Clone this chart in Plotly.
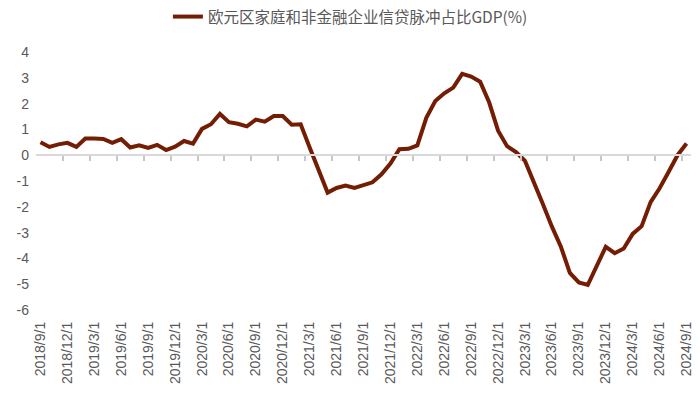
import plotly.graph_objects as go

# Monthly dates 2018/9 .. 2024/9
months = []
y, m = 2018, 9
while (y, m) <= (2024, 9):
    months.append(f"{y}/{m}/1")
    m += 1
    if m > 12:
        m = 1
        y += 1

values = [
    0.50, 0.32, 0.42, 0.48, 0.32, 0.65, 0.65, 0.63, 0.48, 0.62,
    0.30, 0.38, 0.28, 0.40, 0.20, 0.33, 0.55, 0.45, 1.02, 1.20,
    1.60, 1.28, 1.22, 1.12, 1.38, 1.30, 1.52, 1.52, 1.18, 1.20,
    0.30, -0.60, -1.45, -1.27, -1.18, -1.27, -1.17, -1.05, -0.74, -0.32,
    0.23, 0.25, 0.38, 1.45, 2.10, 2.40, 2.62, 3.15, 3.05, 2.85,
    2.05, 0.95, 0.35, 0.12, -0.22, -1.03, -1.90, -2.77, -3.55, -4.56,
    -4.93, -5.03, -4.30, -3.55, -3.80, -3.62, -3.05, -2.75, -1.82, -1.28,
    -0.65, 0.00, 0.45,
]

series_name = "欧元区家庭和非金融企业信贷脉冲占比GDP(%)"
tick_idx = list(range(0, len(months), 3))
tick_text = [months[i] for i in tick_idx]
y_ticks = [4, 3, 2, 1, 0, -1, -2, -3, -4, -5, -6]

x_idx = list(range(len(months)))
font_fam = "Liberation Sans, Arial, sans-serif"

fig = go.Figure()
# invisible trace that carries the zero-crossing category axis (tick marks between categories)
fig.add_trace(go.Scatter(
    x=x_idx, y=values, mode="lines", xaxis="x2", yaxis="y", showlegend=False,
    line=dict(width=1, color="rgba(0,0,0,0)"), hoverinfo="skip",
))
fig.add_trace(go.Scatter(
    x=x_idx, y=values, mode="lines", name=series_name,
    line=dict(color="#731D05", width=4),
))

fig.update_layout(
    width=700, height=395,
    margin=dict(l=35.5, r=8.5, t=52, b=85),
    paper_bgcolor="white", plot_bgcolor="white",
    showlegend=True,
    legend=dict(
        orientation="h", x=0.48, xanchor="center",
        yref="container", y=1 - 17 / 395, yanchor="middle",
        font=dict(family="Noto Sans CJK SC, sans-serif", size=15.5, color="#595959"),
        itemwidth=30,
    ),
    xaxis=dict(
        range=[-0.5, len(months) - 0.5], automargin=False,
        tickmode="array", tickvals=tick_idx, ticktext=tick_text,
        tickangle=-90, ticks="", showgrid=False, zeroline=False,
        showline=False,
        tickfont=dict(family=font_fam, size=14, color="#595959"),
        ticklabelstandoff=8,
    ),
    xaxis2=dict(
        overlaying="x", anchor="free", position=0.6, side="bottom",
        automargin=False, visible=True,
        range=[-0.5, len(months) - 0.5],
        tickmode="array", tickvals=[i - 0.5 for i in tick_idx[1:]],
        showticklabels=False, ticks="outside", ticklen=5,
        tickcolor="#C8C8C8", tickwidth=1.5,
        showline=True, linecolor="#D9D9D9", linewidth=1.5,
        showgrid=False, zeroline=False,
    ),
    yaxis=dict(
        range=[-6, 4], tickmode="array", tickvals=y_ticks, automargin=False,
        ticktext=[str(v) for v in y_ticks],
        showgrid=False, showline=False, ticks="",
        zeroline=True, zerolinecolor="#D9D9D9", zerolinewidth=1.5,
        tickfont=dict(family=font_fam, size=14, color="#595959"),
        ticklabelstandoff=6,
    ),
)

fig.write_html(
    "out.html",
    config={"displayModeBar": False},
    post_script="document.body.style.margin='0px';",
)
